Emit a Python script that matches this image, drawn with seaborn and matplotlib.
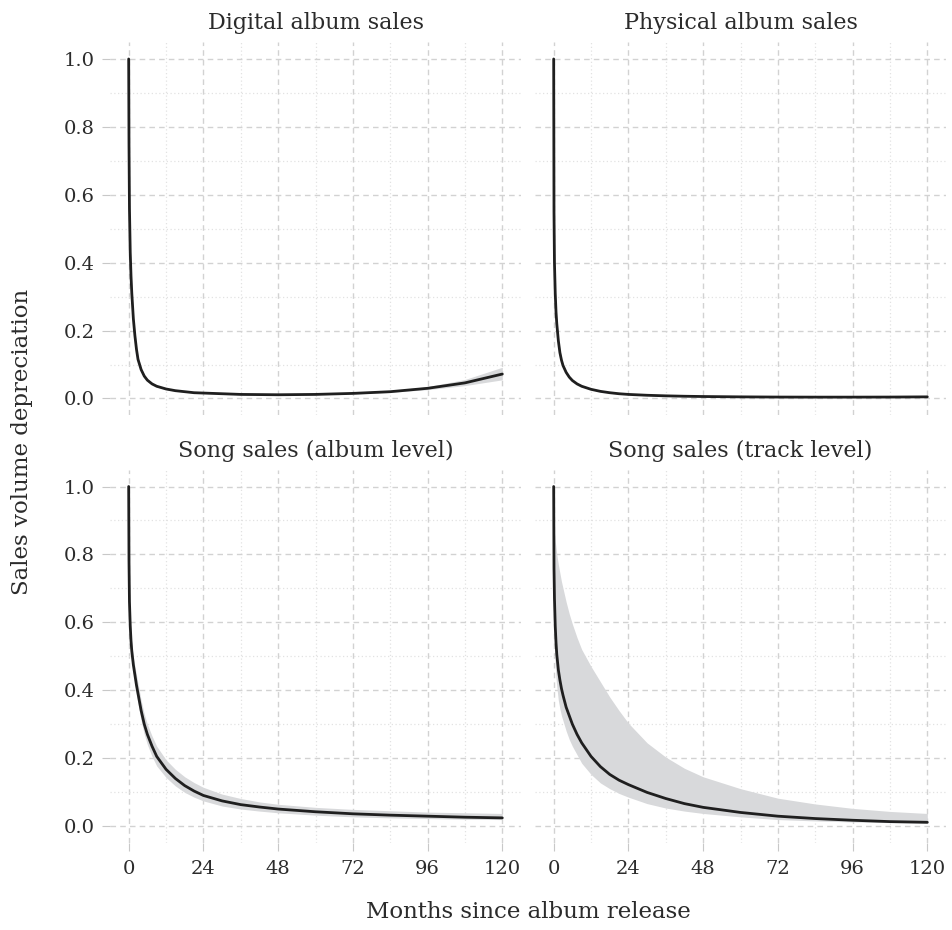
import numpy as np
import pandas as pd
import matplotlib
matplotlib.use("Agg")
import matplotlib.pyplot as plt
from matplotlib.ticker import MultipleLocator
import seaborn as sns

# months since release (shared by all four panels)
months = [0, 0.1, 0.25, 0.5, 0.75, 1, 1.5, 2, 2.5, 3, 4, 5, 6, 7.5, 9, 12, 15, 18, 21, 24,
          30, 36, 42, 48, 60, 72, 84, 96, 108, 120]

panels = ["Digital album sales", "Physical album sales",
          "Song sales (album level)", "Song sales (track level)"]

digital = [1.0, 0.75, 0.56, 0.43, 0.36, 0.31, 0.235, 0.185, 0.145, 0.115, 0.085, 0.066, 0.054,
           0.043, 0.036, 0.028, 0.023, 0.020, 0.017, 0.016, 0.014, 0.012, 0.0115, 0.011, 0.012,
           0.015, 0.020, 0.030, 0.046, 0.072]
digital_hi = [1.0, 0.77, 0.58, 0.455, 0.385, 0.33, 0.252, 0.198, 0.156, 0.124, 0.092, 0.071, 0.058,
              0.046, 0.038, 0.030, 0.0245, 0.021, 0.018, 0.017, 0.015, 0.013, 0.0125, 0.012, 0.013,
              0.017, 0.023, 0.035, 0.056, 0.092]
digital_lo = [1.0, 0.73, 0.54, 0.405, 0.335, 0.29, 0.218, 0.172, 0.134, 0.106, 0.078, 0.061, 0.050,
              0.040, 0.034, 0.026, 0.0215, 0.019, 0.016, 0.015, 0.013, 0.011, 0.0105, 0.010, 0.011,
              0.013, 0.018, 0.026, 0.038, 0.055]

physical = [1.0, 0.55, 0.40, 0.31, 0.255, 0.22, 0.17, 0.135, 0.113, 0.097, 0.077, 0.063, 0.053,
            0.043, 0.036, 0.027, 0.021, 0.017, 0.014, 0.012, 0.0095, 0.0078, 0.0066, 0.0058,
            0.0048, 0.0042, 0.004, 0.004, 0.0042, 0.0048]
physical_hi = [1.0, 0.58, 0.425, 0.33, 0.27, 0.233, 0.18, 0.143, 0.12, 0.103, 0.082, 0.067, 0.056,
               0.046, 0.038, 0.0285, 0.022, 0.018, 0.0148, 0.0127, 0.010, 0.0083, 0.007, 0.0062,
               0.0051, 0.0045, 0.0043, 0.0043, 0.0046, 0.0054]
physical_lo = [1.0, 0.52, 0.375, 0.29, 0.24, 0.207, 0.16, 0.127, 0.106, 0.091, 0.072, 0.059, 0.050,
               0.040, 0.034, 0.0255, 0.020, 0.016, 0.0132, 0.0113, 0.009, 0.0073, 0.0062, 0.0054,
               0.0045, 0.0039, 0.0037, 0.0037, 0.0038, 0.0042]

song_album = [1.0, 0.78, 0.66, 0.59, 0.545, 0.515, 0.475, 0.445, 0.415, 0.39, 0.34, 0.30, 0.27,
              0.235, 0.205, 0.167, 0.14, 0.119, 0.103, 0.090, 0.074, 0.063, 0.056, 0.050, 0.042,
              0.036, 0.032, 0.029, 0.026, 0.024]
song_album_hi = [1.0, 0.79, 0.675, 0.61, 0.565, 0.54, 0.50, 0.47, 0.445, 0.42, 0.37, 0.33, 0.30,
                 0.265, 0.235, 0.195, 0.167, 0.145, 0.128, 0.114, 0.094, 0.081, 0.071, 0.064, 0.055,
                 0.049, 0.045, 0.041, 0.039, 0.037]
song_album_lo = [1.0, 0.77, 0.645, 0.57, 0.525, 0.49, 0.45, 0.42, 0.385, 0.36, 0.31, 0.27, 0.24,
                 0.205, 0.177, 0.143, 0.118, 0.099, 0.085, 0.074, 0.059, 0.050, 0.044, 0.039, 0.032,
                 0.027, 0.024, 0.022, 0.020, 0.019]

song_track = [1.0, 0.76, 0.67, 0.59, 0.54, 0.505, 0.46, 0.43, 0.405, 0.385, 0.35, 0.325, 0.30,
              0.27, 0.245, 0.205, 0.175, 0.152, 0.135, 0.122, 0.099, 0.081, 0.066, 0.055, 0.040,
              0.029, 0.022, 0.017, 0.013, 0.011]
song_track_hi = [1.0, 0.90, 0.87, 0.84, 0.82, 0.80, 0.77, 0.745, 0.72, 0.70, 0.66, 0.625, 0.595,
                 0.555, 0.52, 0.47, 0.425, 0.38, 0.34, 0.303, 0.245, 0.203, 0.17, 0.145, 0.11,
                 0.082, 0.065, 0.052, 0.043, 0.037]
song_track_lo = [1.0, 0.60, 0.52, 0.47, 0.435, 0.41, 0.37, 0.345, 0.325, 0.31, 0.28, 0.255, 0.235,
                 0.21, 0.185, 0.152, 0.127, 0.11, 0.096, 0.085, 0.066, 0.053, 0.044, 0.037, 0.027,
                 0.019, 0.015, 0.012, 0.010, 0.008]

frames = []
for name, y, lo, hi in zip(panels,
                           [digital, physical, song_album, song_track],
                           [digital_lo, physical_lo, song_album_lo, song_track_lo],
                           [digital_hi, physical_hi, song_album_hi, song_track_hi]):
    frames.append(pd.DataFrame({"panel": name, "month": months, "value": y, "lo": lo, "hi": hi}))
df = pd.concat(frames, ignore_index=True)

sns.set_style("white")
plt.rcParams["font.family"] = ["DejaVu Serif"]
txt = "#2b2b2b"


def band(data, **kws):
    plt.gca().fill_between(data["month"], data["lo"], data["hi"], color="#d8d9db", lw=0, zorder=2)


g = sns.FacetGrid(df, col="panel", col_wrap=2, col_order=panels, sharex=True, sharey=True,
                  height=4, aspect=1.1, despine=False)
g.map_dataframe(band)
g.map_dataframe(sns.lineplot, x="month", y="value", color="#1f1f1f", lw=2, zorder=3)
g.set_titles("{col_name}", size=16, color=txt, pad=9)
g.set_axis_labels("", "")
g.figure.set_size_inches(9.52, 9.30)

for i, ax in enumerate(g.axes.flat):
    ax.set_xlim(-6, 126)
    ax.set_ylim(-0.05, 1.05)
    ax.xaxis.set_major_locator(MultipleLocator(24))
    ax.xaxis.set_minor_locator(MultipleLocator(12))
    ax.yaxis.set_major_locator(MultipleLocator(0.2))
    ax.yaxis.set_minor_locator(MultipleLocator(0.1))
    ax.yaxis.set_major_formatter(plt.FuncFormatter(lambda v, p: f"{v:.1f}"))
    ax.grid(which="major", color="#d2d2d2", ls=(0, (4, 3)), lw=1, zorder=0)
    ax.grid(which="minor", color="#e2e2e2", ls=(0, (1, 2)), lw=0.9, zorder=0)
    ax.set_axisbelow(True)
    for s in ax.spines.values():
        s.set_visible(False)
    left = i % 2 == 0
    bottom = i >= 2
    ax.tick_params(axis="y", which="major", length=6 if left else 0, color="#c8c8c8",
                   labelsize=14, labelcolor=txt, pad=5, left=True)
    ax.tick_params(axis="x", which="major", length=6 if bottom else 0, color="#c8c8c8",
                   labelsize=14, labelcolor=txt, pad=6, bottom=True)
    ax.tick_params(which="minor", length=0)
    ax.set_xlabel("")
    ax.set_ylabel("")

g.figure.subplots_adjust(left=110 / 952, right=946 / 952, top=1 - 42 / 930, bottom=1 - 843 / 930,
                         wspace=14 / 411, hspace=54 / 373)
g.figure.text(528 / 952, 1 - 912 / 930, "Months since album release", ha="center", va="center",
              size=16.5, color=txt)
g.figure.text(22 / 952, 1 - 442 / 930, "Sales volume depreciation", ha="center", va="center",
              rotation=90, size=16.5, color=txt)

g.figure.savefig("out.png", dpi=100)
